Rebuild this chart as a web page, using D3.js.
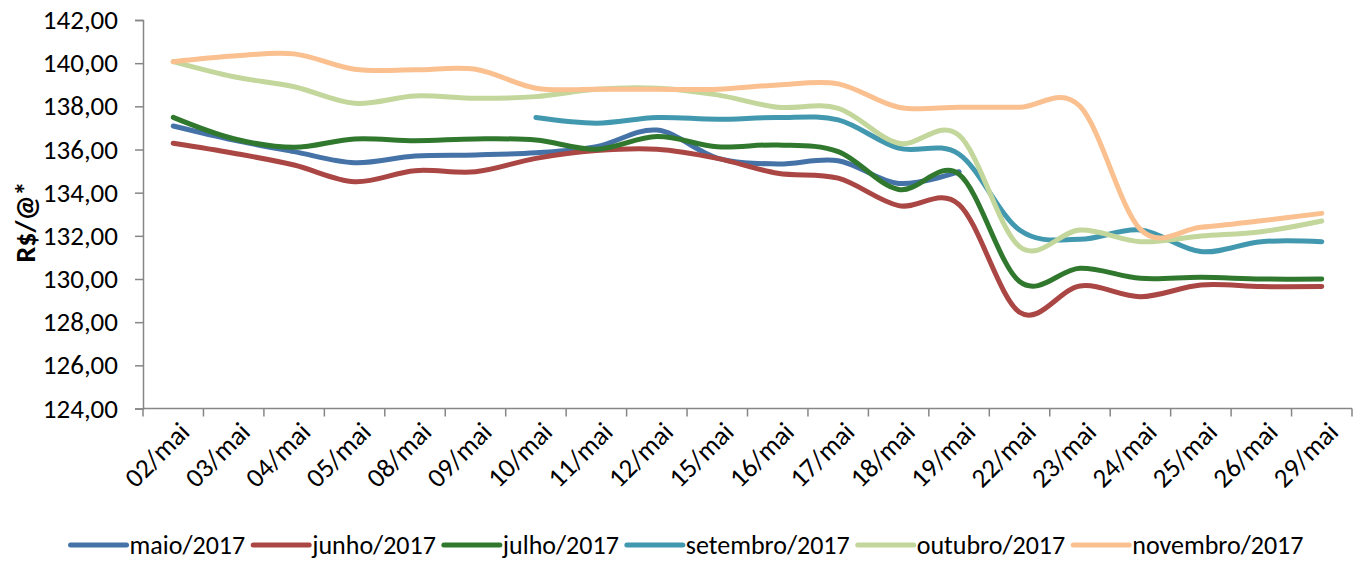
<html>
<head>
    <meta charset="utf-8">
    <title>R$/@* - maio/2017</title>
    <script src="https://d3js.org/d3.v7.min.js"></script>
    <style>
        body { margin: 0; background: #fff; }
        text { font-family: Carlito, Calibri, Lato, sans-serif; fill: #000; }
    </style>
</head>
<body>
    <div id="chart"></div>
    <script>
        // categorias (dias de maio)
        var days = ['02/mai', '03/mai', '04/mai', '05/mai', '08/mai', '09/mai', '10/mai', '11/mai', '12/mai', '15/mai',
                    '16/mai', '17/mai', '18/mai', '19/mai', '22/mai', '23/mai', '24/mai', '25/mai', '26/mai', '29/mai'];

        var seriesNames = ['maio/2017', 'junho/2017', 'julho/2017', 'setembro/2017', 'outubro/2017', 'novembro/2017'];
        var seriesColors = ['#4572A7', '#AA4643', '#31782F', '#4198AF', '#C3D69B', '#FAC090'];

        var maio = [137.09, 136.44, 135.90, 135.39, 135.70, 135.75, 135.85, 136.13, 136.90, 135.60,
                    135.33, 135.48, 134.43, 134.97, null, null, null, null, null, null];
        var junho = [136.29, 135.83, 135.28, 134.51, 135.02, 134.97, 135.59, 135.95, 136.01, 135.59,
                     134.90, 134.67, 133.40, 133.45, 128.46, 129.68, 129.18, 129.72, 129.65, 129.65];
        var julho = [137.49, 136.50, 136.10, 136.49, 136.41, 136.49, 136.44, 136.01, 136.60, 136.13,
                     136.21, 135.90, 134.15, 134.85, 129.88, 130.50, 130.03, 130.08, 130.00, 130.00];
        var setembro = [null, null, null, null, null, null, 137.48, 137.22, 137.48, 137.40,
                        137.48, 137.37, 136.06, 135.78, 132.27, 131.84, 132.27, 131.27, 131.73, 131.73];
        var outubro = [140.07, 139.37, 138.91, 138.14, 138.48, 138.37, 138.45, 138.79, 138.84, 138.53,
                       137.96, 137.91, 136.29, 136.65, 131.50, 132.27, 131.73, 131.99, 132.19, 132.69];
        var novembro = [140.07, 140.33, 140.43, 139.72, 139.69, 139.72, 138.84, 138.79, 138.79, 138.79,
                        138.99, 139.04, 137.96, 137.96, 137.96, 138.00, 132.30, 132.40, 132.70, 133.04];

        var allSeries = [maio, junho, julho, setembro, outubro, novembro];
        var yTicks = [124, 126, 128, 130, 132, 134, 136, 138, 140, 142];

        var width = 1366, height = 561;
        var margin = { top: 20, right: 14, bottom: 152.5, left: 143 };
        var axisColor = '#868686';
        var fontSize = '27px';

        var svg = d3.select('#chart').append('svg')
            .attr('width', width)
            .attr('height', height);

        var x = d3.scaleBand()
            .domain(days)
            .range([margin.left, width - margin.right]);

        var y = d3.scaleLinear()
            .domain([124, 142])
            .range([height - margin.bottom, margin.top]);

        // eixo Y
        var yAxis = svg.append('g')
            .attr('transform', 'translate(' + margin.left + ',0)')
            .call(d3.axisLeft(y).tickValues(yTicks).tickSize(8).tickPadding(17)
                .tickFormat(function (d) { return d3.format('.2f')(d).replace('.', ','); }));
        yAxis.selectAll('text').style('font-size', fontSize);

        // eixo X (ticks nas bordas das categorias)
        var x0 = height - margin.bottom;
        var xAxis = svg.append('g');
        xAxis.append('line')
            .attr('x1', margin.left).attr('x2', width - margin.right)
            .attr('y1', x0).attr('y2', x0);
        var edges = days.map(function (d) { return x(d); }).concat([x.range()[1]]);
        xAxis.selectAll('.xtick')
            .data(edges)
            .enter().append('line')
            .attr('class', 'xtick')
            .attr('x1', function (d) { return d; }).attr('x2', function (d) { return d; })
            .attr('y1', x0).attr('y2', x0 + 8);
        xAxis.selectAll('.xlabel')
            .data(days)
            .enter().append('text')
            .attr('class', 'xlabel')
            .attr('text-anchor', 'end')
            .style('font-size', fontSize)
            .attr('transform', function (d) {
                return 'translate(' + (x(d) + x.bandwidth() / 2 + 18) + ',' + (x0 + 25) + ') rotate(-45)';
            })
            .text(function (d) { return d; });

        svg.selectAll('.domain, .tick line, g line')
            .attr('stroke', axisColor)
            .attr('stroke-width', 1.5);

        // titulo do eixo
        svg.append('text')
            .attr('transform', 'translate(35,' + 222 + ') rotate(-90)')
            .attr('text-anchor', 'middle')
            .style('font-size', '28px')
            .style('font-weight', 'bold')
            .text('R$/@*');

        // linhas suavizadas
        var line = d3.line()
            .defined(function (d) { return d != null; })
            .x(function (d, i) { return x(days[i]) + x.bandwidth() / 2; })
            .y(function (d) { return y(d); })
            .curve(d3.curveCardinal.tension(0));

        svg.selectAll('.serie')
            .data(allSeries)
            .enter().append('path')
            .attr('class', 'serie')
            .attr('fill', 'none')
            .attr('stroke', function (d, i) { return seriesColors[i]; })
            .attr('stroke-width', 5)
            .attr('stroke-linecap', 'round')
            .attr('stroke-linejoin', 'round')
            .attr('d', line);

        // legenda
        var legend = svg.append('g');
        var lx = 0;
        seriesNames.forEach(function (name, i) {
            var g = legend.append('g').attr('transform', 'translate(' + lx + ',0)');
            g.append('line')
                .attr('x1', 0).attr('x2', 56)
                .attr('y1', 0).attr('y2', 0)
                .attr('stroke', seriesColors[i])
                .attr('stroke-width', 5)
                .attr('stroke-linecap', 'round');
            var t = g.append('text')
                .attr('x', 59)
                .attr('dy', '0.35em')
                .style('font-size', '26px')
                .text(name);
            lx += 59 + t.node().getComputedTextLength() + 8;
        });
        lx -= 8;
        legend.attr('transform', 'translate(' + (687 - lx / 2) + ',545)');
    </script>
</body>
</html>
